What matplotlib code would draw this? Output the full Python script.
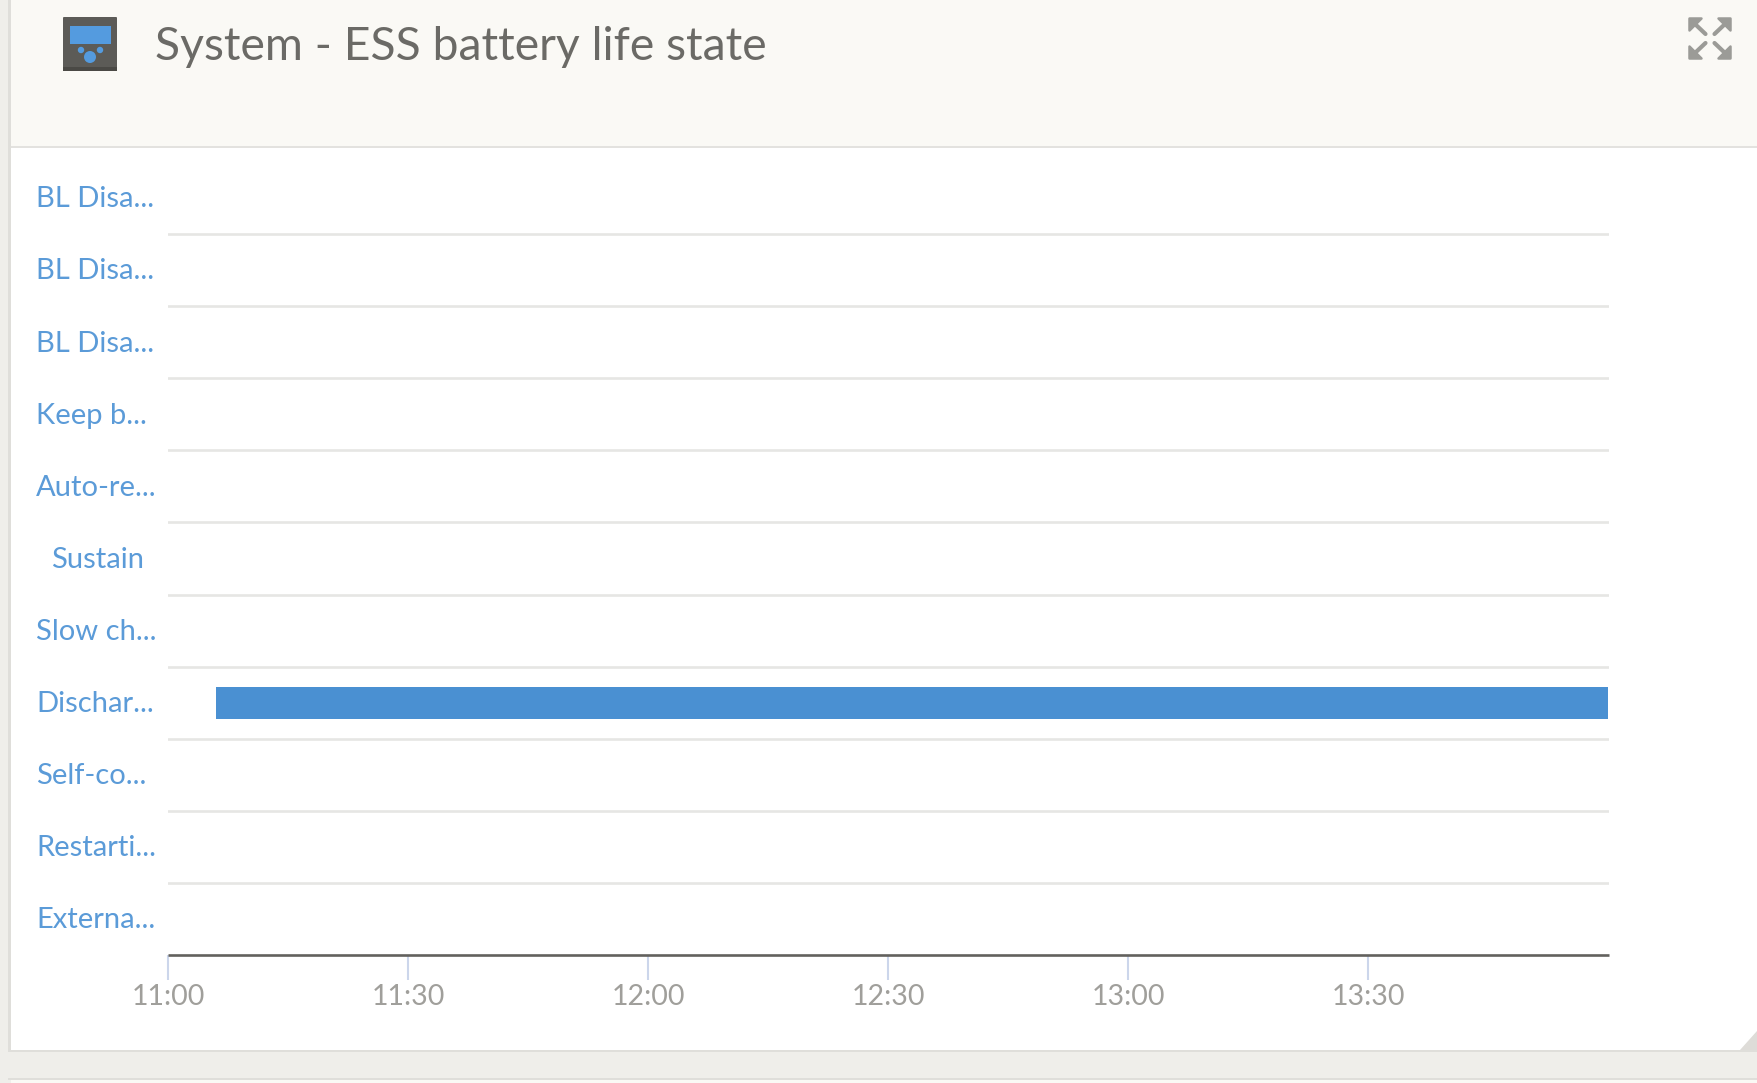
import matplotlib
matplotlib.use('Agg')
import matplotlib.pyplot as plt
from matplotlib.patches import Rectangle, Polygon, Circle, FancyBboxPatch
from matplotlib.transforms import ScaledTranslation

# y categories, bottom to top (labels are cut off in the original too)
categories = ['Externa...', 'Restarti...', 'Self-co...', 'Dischar...', 'Slow ch...', 'Sustain',
              'Auto-re...', 'Keep b...', 'BL Disa...', 'BL Disa...', 'BL Disa...']

# time axis in minutes after midnight
tick_minutes = [660, 690, 720, 750, 780, 810]
tick_labels = ['11:00', '11:30', '12:00', '12:30', '13:00', '13:30']

# the only active state
active_state = 'Dischar...'
active_start = 666  # 11:06
active_end = 840    # 14:00

W, H = 1757, 1083
BLUE = '#4a90d2'
LABEL_BLUE = '#5b9bd8'
GREY_TEXT = '#a09f9b'
FONT = 'Lato'

fig = plt.figure(figsize=(W / 100, H / 100), dpi=100, facecolor='#efeeea')

# page chrome drawn in pixel coords
bg = fig.add_axes([0, 0, 1, 1], zorder=0)
bg.set_xlim(0, W)
bg.set_ylim(H, 0)
bg.axis('off')
bg.add_patch(Rectangle((8, -5), W, 1057, fc='#dfdeda', ec='none'))
bg.add_patch(Rectangle((11, -5), W, 1055, fc='white', ec='none'))
bg.add_patch(Rectangle((11, -5), W, 151, fc='#faf9f5', ec='none'))
bg.add_patch(Rectangle((11, 146), W, 2, fc='#e3e2df', ec='none'))
bg.add_patch(Rectangle((8, 1078), W, 2, fc='#dfdeda', ec='none'))
bg.add_patch(Rectangle((11, 1080), W, 10, fc='#faf9f5', ec='none'))
bg.add_patch(Polygon([(1740, 1050), (1757, 1031), (1757, 1050)], fc='#dedcd8', ec='none'))

# device icon
bg.add_patch(FancyBboxPatch((63, 17), 54, 54, boxstyle='round,pad=0,rounding_size=1', fc='#5c5b57', ec='none'))
bg.add_patch(Rectangle((63, 67), 54, 4, fc='#4a4945', ec='none'))
bg.add_patch(Rectangle((70, 26), 41, 18, fc='#549bdf', ec='none'))
bg.add_patch(Circle((81, 50), 3.2, fc='#549bdf', ec='none'))
bg.add_patch(Circle((100, 50), 3.2, fc='#549bdf', ec='none'))
bg.add_patch(Circle((90, 57), 6, fc='#549bdf', ec='none'))

# expand icon, four arrows pointing to the corners
for sx, sy in [(-1, -1), (1, -1), (-1, 1), (1, 1)]:
    cx, cy = 1710, 38.5
    tip = (cx + sx * 20.5, cy + sy * 20)
    head = [tip, (tip[0] - sx * 12, tip[1]), (tip[0], tip[1] - sy * 12)]
    bg.add_patch(Polygon(head, fc='#9b9b97', ec='#9b9b97', lw=1.8, joinstyle='round'))
    bg.plot([tip[0] - sx * 6, cx + sx * 4.5], [tip[1] - sy * 6, cy + sy * 4.5], color='#9b9b97', lw=3,
            solid_capstyle='round')

bg.text(155, 47, 'System - ESS battery life state', fontsize=33.3, family=FONT, fontweight='normal',
        color='#6b6a66', va='center', ha='left')

# chart area: plot box 168..1609 x, 162..955 y
ax = fig.add_axes([168 / W, 1 - 955 / H, (1609 - 168) / W, (955 - 162) / H], zorder=1)
ax.patch.set_alpha(0)

y_pos = range(len(categories))
ax.barh(categories.index(active_state), active_end - active_start, left=active_start, height=0.44,
        color=BLUE, zorder=3)

ax.set_xlim(660, 840.1)
ax.set_ylim(-0.5, len(categories) - 0.5)
for s in ['top', 'left', 'right']:
    ax.spines[s].set_visible(False)
ax.spines['bottom'].set_color('#62615d')
ax.spines['bottom'].set_linewidth(1.9)
ax.spines['bottom'].set_capstyle('butt')

ax.set_xticks(tick_minutes)
ax.set_xticklabels(tick_labels, fontsize=20.5, family=FONT, color=GREY_TEXT)
ax.tick_params(axis='x', length=18, width=1.5, color='#ccd6eb', pad=3)

ax.set_yticks(list(y_pos))
ax.set_yticklabels(categories, fontsize=21, family=FONT, color=LABEL_BLUE, ha='left')
ax.tick_params(axis='y', length=0, pad=95)
# "Sustain" is the only label short enough to sit indented
for tick, name in zip(ax.yaxis.get_major_ticks(), categories):
    if name == 'Sustain':
        tick.set_pad(84)
    # nudge labels up a pixel
    tick.label1.set_transform(tick.label1.get_transform() + ScaledTranslation(0, 0.012, fig.dpi_scale_trans))

ax.set_yticks([i + 0.5 for i in range(len(categories) - 1)], minor=True)
ax.tick_params(axis='y', which='minor', length=0)
ax.grid(True, axis='y', which='minor', color='#e6e6e4', lw=1.9)
ax.set_axisbelow(True)

fig.savefig('out.png', dpi=100, facecolor=fig.get_facecolor())
